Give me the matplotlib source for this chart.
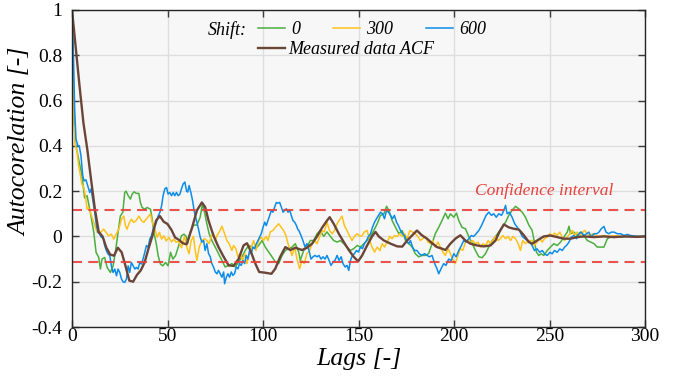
import matplotlib
matplotlib.use("Agg")
import matplotlib.pyplot as plt

# ---------------- data ----------------
acf_lags = [0, 2, 4, 6, 8, 10, 12, 14, 16, 18, 20, 22, 24, 26, 28, 30, 32, 34, 36, 38, 40, 42, 44, 46, 48, 50,
            52, 54, 56, 58, 60, 62.7, 65.4, 68, 69.7, 71.5, 74, 76.7, 79.4, 82, 84.6, 87.2, 89.8, 91.6, 93.3, 96,
            98, 101, 104.4, 106.4, 109, 111.7, 114.3, 117, 120.4, 123, 125.7, 128.3, 130.9, 133.5, 134.9, 137,
            139.7, 142.3, 144.9, 147.5, 149.8, 151.9, 154.5, 157.1, 158.9, 160.6, 163.3, 166.8, 170.3, 172.9,
            175.5, 178.1, 180.6, 183.2, 185.9, 188.5, 191.1, 193.7, 195.5, 198.1, 200.7, 203.3, 206, 208.6,
            212.1, 215.6, 219.1, 221.7, 223.8, 226.1, 228.7, 231.3, 234, 236.6, 239.2, 240.9, 243.5, 247,
            250.5, 254, 257.5, 261, 264.5, 268, 273.3, 278.5, 283.8, 289, 296, 300]
acf_vals = [1.0, 0.83, 0.66, 0.50, 0.385, 0.25, 0.12, 0.02, 0.0, -0.05, -0.08, -0.085, -0.05, -0.07, -0.13, -0.195,
            -0.20, -0.17, -0.15, -0.115, -0.055, 0.0, 0.07, 0.09, 0.065, 0.055, 0.03, -0.005, -0.015, -0.03, -0.035,
            0.034, 0.115, 0.15, 0.13, 0.07, 0.005, -0.047, -0.09, -0.128, -0.13, -0.1, -0.04, -0.03, -0.06, -0.12,
            -0.157, -0.16, -0.165, -0.143, -0.09, -0.047, -0.06, -0.05, -0.06, -0.05, -0.032, 0.0, 0.038, 0.07,
            0.085, 0.056, 0.012, -0.025, -0.06, -0.09, -0.11, -0.084, -0.04, 0.0, 0.02, 0.0, -0.018, -0.032,
            -0.044, -0.045, -0.018, 0.005, 0.026, 0.005, -0.01, -0.03, -0.047, -0.054, -0.06, -0.032, -0.01,
            0.005, -0.018, -0.032, -0.04, -0.044, -0.04, -0.018, 0.02, 0.053, 0.04, 0.034, 0.03, 0.005, -0.025,
            -0.032, -0.018, 0.0, 0.004, -0.003, -0.01, -0.01, -0.003, 0.0, -0.003, 0.0, -0.003, 0.0, -0.002, 0.0]

g_lags = [0, 0.9, 1.8, 3.5, 5.2, 6.6, 7.9, 9.6, 11.4, 12.6, 14, 14.9, 15.7, 17.1, 18.4, 20.1, 21.5, 22.7, 24.1,
          25.3, 26.6, 27.6, 28.3, 29.4, 30.6, 31.5, 32.5, 33.7, 35, 35.8, 36.7, 38.1, 39.3, 41.1, 42, 42.8, 44,
          45.1, 46.3, 47.5, 49, 50.3, 51.6, 52.8, 54.2, 55.9, 57.3, 58.6, 59.8, 60.6, 61.9, 63.6, 65.4, 67.1,
          68.3, 69.4, 70.6, 71.8, 73.2, 75, 76.7, 78.5, 80.2, 82, 83.7, 85.5, 87.2, 89, 90.7, 92.5, 94.2, 96,
          97.7, 99.5, 101.2, 103, 104.7, 106.5, 108.2, 110, 111.7, 113.4, 115.2, 116.9, 118.7, 119.5, 121.3, 123,
          124.8, 126.5, 128.3, 130, 131.8, 133.5, 135.3, 137, 138.8, 140.5, 142.3, 144, 145.8, 147.5, 149.3, 151,
          152.8, 154.5, 156.3, 158, 159.8, 161.5, 163.3, 164.7, 165.9, 167.6, 169.4, 171.1, 172.9, 174.6, 176.4,
          178.1, 179.7, 181.5, 183.2, 185, 186.7, 188.5, 190.2, 192, 193.7, 195.5, 196.9, 198.1, 199.9, 201.3,
          202.5, 204.2, 206, 207.7, 209.5, 211.2, 213, 214.7, 216.5, 218.2, 220, 221.7, 223.5, 225.2, 227, 228.7,
          230.4, 232.2, 233.9, 235.7, 237.4, 239.2, 240.9, 242.1, 243.2, 244.4, 245.6, 247, 248.8, 250.5, 252.3,
          254, 255.8, 257.5, 259.3, 260.2, 261, 262.8, 264.5, 266.3, 268, 269.8, 271.5, 273.3, 275, 276.8, 278.5,
          280.3, 282, 283.8, 285.5, 287.3, 290.8, 294, 297.7, 300]
g_vals = [1.0, 0.6, 0.41, 0.34, 0.27, 0.17, 0.18, 0.106, 0.018, -0.07, -0.093, -0.144, -0.1, -0.093, -0.137,
          -0.159, -0.13, -0.07, 0.018, 0.09, 0.106, 0.194, 0.2, 0.18, 0.165, 0.187, 0.197, 0.19, 0.19, 0.15, 0.128,
          0.12, 0.128, 0.12, 0.076, 0.018, -0.026, -0.085, -0.122, -0.13, -0.115, -0.13, -0.07, -0.1, -0.085,
          -0.04, 0.003, 0.01, 0.0, -0.03, 0.02, 0.05, 0.05, 0.085, 0.144, 0.107, 0.056, 0.012, -0.018, -0.047,
          -0.076, -0.106, -0.135, -0.128, -0.12, -0.135, -0.113, -0.09, -0.062, -0.04, -0.047, -0.054, -0.04,
          -0.018, -0.047, -0.069, -0.09, -0.113, -0.12, -0.084, -0.062, -0.054, -0.047, -0.032, -0.069, -0.106,
          -0.062, -0.047, -0.018, -0.018, 0.012, 0.026, 0.0, 0.02, 0.0, -0.018, -0.025, -0.018, -0.032, -0.047,
          -0.062, -0.054, -0.04, -0.047, -0.032, -0.018, 0.0, 0.026, 0.056, 0.093, 0.1, 0.133, 0.115, 0.07, 0.04,
          0.012, 0.026, -0.018, -0.032, -0.047, -0.076, -0.09, -0.084, -0.084, -0.076, -0.032, 0.012, 0.04, 0.07,
          0.103, 0.078, 0.1, 0.085, 0.103, 0.07, 0.04, 0.034, 0.0, -0.03, -0.062, -0.09, -0.094, -0.076, -0.047,
          -0.018, 0.0, 0.02, 0.04, 0.063, 0.093, 0.115, 0.133, 0.122, 0.107, 0.085, 0.05, 0.027, -0.025, -0.07,
          -0.084, -0.077, -0.084, -0.062, -0.047, -0.032, -0.04, -0.025, -0.003, 0.019, 0.045, 0.012, 0.019, 0.004,
          0.019, 0.004, -0.018, -0.025, -0.032, -0.047, -0.047, -0.047, -0.01, -0.003, 0.0, 0.0, -0.003, 0.0,
          0.0, 0.0, 0.0]

y_lags = [0, 1.0, 1.8, 2.6, 3.5, 4.4, 5.2, 6.1, 7, 7.9, 8.7, 9.6, 11.4, 13.1, 14.9, 16.6, 17.8, 19.2, 20.6, 21.9,
          23.1, 24.5, 25.9, 27.1, 28, 28.8, 30.1, 31.1, 32.3, 33.6, 35, 36.4, 37.6, 38.8, 40.2, 41.1, 42, 43.4,
          44.6, 45.8, 46.9, 48.1, 49.3, 50.7, 52.1, 53.3, 54.5, 55.9, 57.3, 58.9, 60.1, 61.3, 62.4, 63.6, 64.5,
          65.4, 66.6, 68, 69.4, 70.6, 71.8, 72.9, 74.1, 75, 75.9, 77.1, 78.5, 79.9, 81.1, 82.3, 83.7, 84.6, 85.8,
          86.9, 88.1, 89.3, 90.4, 91.6, 92.5, 93.9, 95.1, 96.3, 97.7, 99.1, 100.3, 101.6, 102.6, 103.8, 105.1,
          106.5, 108.2, 109.6, 110.8, 112, 113.1, 114.3, 115.2, 116.6, 117.8, 119.2, 120.4, 121.6, 123, 124.4,
          125.7, 126.9, 128.3, 129.7, 130.9, 132.1, 133.5, 134.8, 136.2, 137.4, 138.8, 140.2, 141.4, 142.6, 144,
          145.4, 146.6, 147.9, 149.3, 150.7, 151.9, 153.1, 154.5, 155.9, 157.1, 158.4, 159.8, 161.2, 162.4, 163.6,
          165, 166.4, 167.6, 168.9, 170.3, 171.6, 172.9, 174.1, 175.5, 176.9, 178.1, 179.7, 181.1, 182.4, 183.6,
          185, 186.4, 187.6, 188.8, 190.2, 191.6, 192.9, 194.1, 195.5, 196.9, 198.1, 199.3, 200.7, 202.1, 203.3,
          204.6, 206, 207.4, 208.6, 209.8, 211.2, 212.6, 213.8, 215.1, 216.5, 217.9, 219.1, 220.3, 221.7, 223.1,
          224.3, 225.6, 227, 228.3, 229.6, 230.8, 232.2, 233.6, 234.8, 236, 237.4, 239.2, 240.9, 242.1, 243.5,
          244.9, 246.2, 247.4, 248.8, 250.2, 251.4, 252.6, 254, 255.4, 256.7, 257.9, 259.3, 260.7, 261.9, 263.1,
          264.5, 265.9, 267.1, 268.4, 269.8, 271.2, 272.4, 274.1, 275.9, 278.5, 281.1, 283.8, 287.3, 290.8, 294,
          297, 300]
y_vals = [1.0, 0.5, 0.4, 0.378, 0.31, 0.27, 0.23, 0.22, 0.18, 0.12, 0.128, 0.106, 0.062, 0.018, 0.018, 0.032,
          0.018, 0.003, 0.01, -0.012, 0.01, 0.032, 0.076, 0.09, 0.047, 0.032, 0.062, 0.076, 0.062, 0.07, 0.09,
          0.07, 0.062, 0.076, 0.09, 0.1, 0.062, 0.032, -0.004, 0.018, -0.012, 0.003, -0.02, -0.004, -0.024,
          -0.012, -0.026, -0.02, -0.05, 0.0, -0.047, -0.076, -0.018, 0.0, -0.062, -0.106, -0.047, -0.018, -0.01,
          -0.018, -0.032, 0.0, 0.012, -0.018, 0.004, 0.02, 0.045, 0.012, -0.018, -0.032, -0.062, -0.04, -0.054,
          -0.09, -0.076, -0.106, -0.076, -0.12, -0.084, -0.047, -0.018, -0.062, -0.018, -0.003, -0.018, 0.0,
          -0.018, 0.02, 0.026, 0.04, 0.056, 0.04, 0.026, 0.004, -0.032, -0.062, -0.084, -0.047, -0.1, -0.143,
          -0.106, -0.12, -0.076, -0.062, -0.032, -0.018, -0.032, 0.0, 0.026, 0.02, 0.063, 0.026, 0.012, 0.026,
          0.056, 0.075, 0.09, 0.048, 0.026, 0.0, -0.018, 0.0, 0.012, 0.0, 0.004, 0.02, 0.026, -0.018, -0.047,
          -0.069, -0.047, -0.062, -0.032, -0.047, -0.025, 0.0, -0.01, 0.004, 0.0, 0.012, 0.0, 0.012, -0.01, 0.026,
          0.02, 0.012, 0.0, -0.018, -0.01, 0.0, -0.025, -0.032, -0.018, -0.047, -0.025, -0.047, -0.069, -0.084,
          -0.054, -0.076, -0.1, -0.12, -0.084, -0.054, -0.062, -0.025, -0.018, -0.032, -0.018, -0.032, -0.025,
          -0.047, -0.032, -0.04, -0.018, -0.032, -0.018, 0.0, -0.018, -0.01, 0.004, -0.01, 0.0, -0.018, 0.0,
          -0.01, -0.032, -0.062, -0.018, -0.032, -0.018, -0.018, -0.04, -0.025, -0.01, -0.025, -0.01, -0.003,
          0.012, 0.0, 0.015, 0.004, 0.019, -0.003, -0.018, -0.003, 0.012, 0.027, 0.004, 0.019, 0.004, 0.015,
          0.027, 0.012, 0.0, 0.012, 0.004, 0.0, 0.004, 0.0, 0.003, 0.0, 0.002, 0.0, 0.0, 0.0]

b_lags = [0, 0.4, 0.9, 1.4, 2.1, 3.1, 3.8, 4.7, 5.6, 6.3, 7.3, 8.4, 9.3, 10, 10.8, 11.9, 12.8, 13.6, 14.5, 15.4,
          16.3, 17.1, 18, 18.9, 19.8, 20.6, 21.5, 22.4, 23.3, 24.1, 25, 25.9, 26.7, 27.6, 28.5, 29.4, 30.2, 31.1,
          32, 32.9, 33.7, 34.6, 35.5, 36.4, 37.2, 38.1, 39, 39.9, 40.7, 41.6, 42.5, 43.4, 44.2, 45.1, 46, 46.9,
          47.7, 48.6, 49.5, 50.3, 51.2, 52.1, 53, 53.8, 54.7, 55.6, 56.5, 57.3, 58.2, 59.1, 60, 60.6, 61.3, 62.4,
          63.1, 64.1, 65.4, 66.2, 67.1, 68, 68.9, 69.7, 70.6, 71.5, 72.4, 73.2, 74.1, 75, 75.9, 76.7, 77.6, 78.5,
          79.4, 79.9, 80.8, 81.6, 82.5, 83.4, 84.2, 85.1, 86, 86.9, 87.7, 88.6, 89.5, 90.4, 91.2, 92.1, 93, 93.9,
          94.7, 95.6, 96.5, 97.4, 98.2, 99.1, 100, 100.9, 101.7, 102.6, 103.5, 104.4, 105.2, 106.1, 107, 107.8,
          108.7, 109.6, 110.5, 111.3, 112.2, 113.1, 114, 114.8, 115.7, 116.6, 117.5, 118.3, 118.8, 119.9, 120.9,
          122, 123, 124.1, 125.1, 126.2, 127.2, 128.3, 129.3, 130.4, 131.4, 132.5, 133.5, 134.6, 135.6, 136.7,
          137.7, 138.8, 139.8, 140.9, 141.9, 143, 144, 144.9, 145.8, 146.8, 147.9, 148.9, 150, 151, 152.1, 153.1,
          154.2, 155.2, 156.3, 157.3, 158.4, 159.4, 160.5, 161.5, 162.6, 163.6, 164.7, 165.7, 166.8, 167.8, 168.8,
          169.9, 170.9, 172, 173, 174.1, 175.1, 176.2, 177.2, 178.3, 179.4, 180.6, 181.8, 183.2, 184.6, 185.9,
          187.1, 188.5, 189.9, 191.1, 192, 193.2, 194.6, 195.8, 197.2, 198.6, 199.9, 201.1, 202.5, 203.9, 205.1,
          206.3, 207.7, 209.1, 210.3, 211.6, 213, 214.4, 215.6, 216.8, 218.2, 219.6, 220.8, 222.1, 223.5, 224.9,
          226.1, 227, 227.8, 229, 230.4, 231.8, 233.1, 234.3, 235.7, 237.1, 238.3, 239.7, 240.9, 242.1, 243.5,
          244.9, 246.2, 247.4, 248.8, 250.2, 251.4, 252.6, 254, 255.4, 256.7, 257.9, 258.9, 260.2, 261.4, 262.8,
          264.2, 265.4, 266.6, 268, 269.4, 270.6, 271.9, 273.3, 274.7, 275.9, 277.1, 278.5, 279.6, 281, 282.4,
          283.8, 285.5, 287.3, 289, 290.8, 292.5, 294.2, 296.9, 300]
b_vals = [1.0, 0.9, 0.75, 0.56, 0.43, 0.4, 0.4, 0.356, 0.27, 0.245, 0.25, 0.22, 0.194, 0.21, 0.165, 0.106, 0.047,
          0.018, 0.01, -0.004, -0.004, -0.04, -0.063, -0.078, -0.085, -0.13, -0.159, -0.144, -0.174, -0.144,
          -0.159, -0.188, -0.2, -0.203, -0.188, -0.13, -0.159, -0.115, -0.13, -0.144, -0.137, -0.144, -0.115,
          -0.122, -0.1, -0.07, -0.04, -0.048, -0.012, 0.003, 0.032, 0.047, 0.062, 0.09, 0.106, 0.135, 0.18, 0.21,
          0.216, 0.187, 0.194, 0.18, 0.194, 0.18, 0.194, 0.18, 0.187, 0.21, 0.232, 0.24, 0.2, 0.196, 0.225, 0.188,
          0.159, 0.107, 0.063, 0.034, -0.003, -0.025, -0.018, -0.062, -0.032, -0.076, -0.09, -0.12, -0.135,
          -0.157, -0.165, -0.15, -0.165, -0.18, -0.157, -0.209, -0.18, -0.165, -0.18, -0.157, -0.172, -0.165,
          -0.135, -0.143, -0.12, -0.128, -0.106, -0.12, -0.084, -0.1, -0.062, -0.076, -0.047, -0.054, -0.032,
          -0.018, -0.003, 0.012, 0.04, 0.063, 0.048, 0.07, 0.093, 0.115, 0.107, 0.13, 0.15, 0.147, 0.15, 0.13,
          0.107, 0.115, 0.122, 0.107, 0.115, 0.093, 0.07, 0.063, 0.048, 0.03, 0.026, 0.004, -0.018, -0.047,
          -0.032, -0.062, -0.1, -0.09, -0.084, -0.09, -0.084, -0.1, -0.09, -0.1, -0.084, -0.106, -0.128, -0.113,
          -0.106, -0.084, -0.106, -0.09, -0.12, -0.135, -0.128, -0.15, -0.106, -0.084, -0.076, -0.062, -0.069,
          -0.047, -0.054, -0.032, -0.018, 0.0, 0.012, 0.04, 0.063, 0.078, 0.093, 0.107, 0.1, 0.078, 0.115, 0.107,
          0.093, 0.078, 0.093, 0.063, 0.048, 0.026, 0.012, 0.004, -0.018, -0.032, -0.018, -0.047, -0.062, -0.062,
          -0.076, -0.084, -0.076, -0.084, -0.09, -0.084, -0.12, -0.143, -0.165, -0.143, -0.12, -0.128, -0.1,
          -0.106, -0.076, -0.09, -0.062, -0.04, -0.018, -0.025, -0.01, 0.004, 0.0, 0.012, 0.026, 0.048, 0.07,
          0.093, 0.107, 0.093, 0.1, 0.085, 0.1, 0.093, 0.115, 0.137, 0.1, 0.107, 0.085, 0.056, 0.04, 0.026, 0.0,
          -0.01, -0.018, -0.025, -0.04, -0.062, -0.055, -0.07, -0.062, -0.077, -0.084, -0.07, -0.077, -0.062,
          -0.07, -0.055, -0.062, -0.047, -0.04, -0.025, -0.003, 0.004, -0.01, 0.012, 0.019, 0.004, 0.012, 0.019,
          -0.003, 0.012, 0.012, 0.019, 0.034, 0.044, 0.019, 0.012, 0.019, 0.019, 0.012, 0.012, 0.004, 0.009,
          0.004, 0.002, 0.0, 0.0]

conf_level = 0.115
shift_labels = ["0", "300", "600"]
acf_label = "Measured data ACF"
x_ticks = [0, 50, 100, 150, 200, 250, 300]
y_ticks = [-0.4, -0.2, 0, 0.2, 0.4, 0.6, 0.8, 1]
y_ticklabels = ["-0.4", "-0.2", "0", "0.2", "0.4", "0.6", "0.8", "1"]

# ---------------- style ----------------
SERIF = ["Liberation Serif", "DejaVu Serif"]
plt.rcParams["font.family"] = SERIF

c_green = "#4caf3e"
c_yellow = "#ffc21a"
c_blue = "#0c8ce9"
c_brown = "#6b4638"
c_red = "#e8413c"

fig = plt.figure(figsize=(6.74, 3.83), dpi=100)
ax = fig.add_axes([72 / 674, 1 - 327 / 383, (645 - 72) / 674, (327 - 10) / 383])
ax.set_facecolor("#f7f7f7")

ax.set_xlim(0, 300)
ax.set_ylim(-0.4, 1)
ax.set_xticks(x_ticks)
ax.set_yticks(y_ticks)
ax.set_yticklabels(y_ticklabels)
ax.grid(True, color="#dedede", linewidth=1.0)
ax.set_axisbelow(True)
ax.tick_params(direction="in", length=5, width=1.0, color="#3a3a3a",
               top=True, right=True, labelsize=14)
ax.tick_params(axis="y", pad=7)
ax.tick_params(axis="x", pad=1)
for s in ax.spines.values():
    s.set_color("#262626")
    s.set_linewidth(1.0)

lg, = ax.plot(g_lags, g_vals, color=c_green, lw=1.1)
ly, = ax.plot(y_lags, y_vals, color=c_yellow, lw=1.1)
lb, = ax.plot(b_lags, b_vals, color=c_blue, lw=1.1)
lm, = ax.plot(acf_lags, acf_vals, color=c_brown, lw=1.7)

ax.axhline(conf_level, color=c_red, lw=1.5, ls=(0, (4.8, 3)), alpha=0.9)
ax.axhline(-conf_level, color=c_red, lw=1.5, ls=(0, (4.8, 3)), alpha=0.9)
ax.text(211, 0.2, "Confidence interval", color=c_red, fontsize=12.6,
        fontstyle="italic", va="center", ha="left")

ax.set_xlabel("Lags [-]", fontsize=18.5, fontstyle="italic", labelpad=2)
ax.set_ylabel("Autocorelation [-]", fontsize=18.5, fontstyle="italic")
ax.yaxis.set_label_coords(-0.07, 0.585)

leg_font = {"family": SERIF, "style": "italic", "size": 13}
leg1 = ax.legend([lg, ly, lb], shift_labels, ncol=3, frameon=False, prop=leg_font,
                 handlelength=1.5, handletextpad=0.35, columnspacing=1.8,
                 loc="center left", bbox_to_anchor=(258 / 674, 1 - 30 / 383),
                 bbox_transform=fig.transFigure, borderpad=0, borderaxespad=0)
ax.add_artist(leg1)
leg2 = ax.legend([lm], [acf_label], frameon=False, prop=leg_font,
                 handlelength=1.5, handletextpad=0.2,
                 loc="center left", bbox_to_anchor=(258 / 674, 1 - 50 / 383),
                 bbox_transform=fig.transFigure, borderpad=0, borderaxespad=0)
fig.text(208 / 674, 1 - 30 / 383, "Shift:", fontsize=13, fontstyle="italic",
         va="center", ha="left")

fig.savefig("out.png", dpi=100)
